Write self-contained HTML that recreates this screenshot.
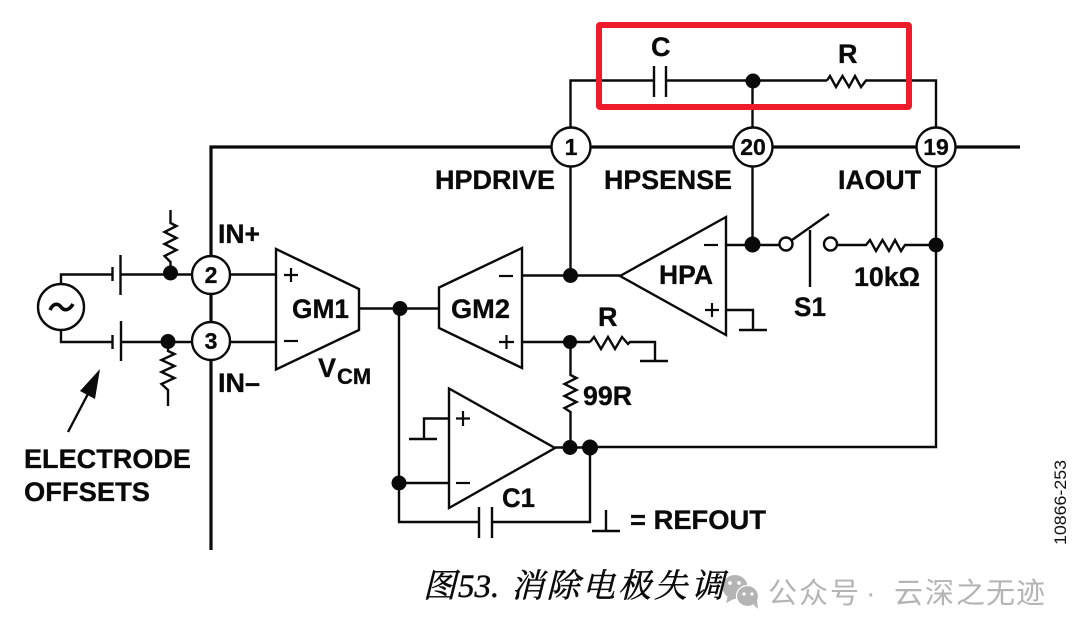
<!DOCTYPE html>
<html>
<head>
<meta charset="utf-8">
<style>
html,body{margin:0;padding:0;background:#fff;width:1080px;height:636px;overflow:hidden}
svg{display:block}
.b{font-family:"Liberation Sans",sans-serif;font-weight:bold;font-size:27px;fill:#0a0a0a;stroke:#0a0a0a;stroke-width:.3px}
.n{font-family:"Liberation Sans",sans-serif;font-weight:bold;font-size:23px;fill:#0a0a0a;text-anchor:middle;stroke:#0a0a0a;stroke-width:.3px}
</style>
</head>
<body>
<svg width="1080" height="636" viewBox="0 0 1080 636" xmlns="http://www.w3.org/2000/svg">
<rect width="1080" height="636" fill="#fff"/>
<g fill="none" stroke="#0a0a0a" stroke-width="2.4" stroke-linejoin="miter">
  <!-- main bus -->
  <polyline points="211,550 211,147 1020,147" stroke-width="3.2"/>
  <!-- top loop -->
  <polyline points="570.5,147 570.5,80.5 654,80.5"/>
  <polyline points="666,80.5 827,80.5"/>
  <polyline points="827,80.5 830,76 836,87 842.500,76 849,87 855,76 861,87 866,80.500 936,80.500 936,147"/>
  <line x1="654" y1="66" x2="654" y2="97"/>
  <line x1="666" y1="66" x2="666" y2="97"/>
  <line x1="752.500" y1="80" x2="752.500" y2="147"/>
  <!-- vertical from pins -->
  <line x1="570.500" y1="147" x2="570.500" y2="276"/>
  <line x1="752.500" y1="147" x2="752.500" y2="245"/>
  <polyline points="936,147 936,447 590,447 590,522 492,522"/>
  <!-- source -->
  <circle cx="61" cy="307" r="23"/>
  <polyline points="61,284 61,274.500 112,274.500"/>
  <polyline points="61,330 61,342 112,342"/>
  <line x1="112.500" y1="267" x2="112.500" y2="281"/>
  <line x1="120.500" y1="255" x2="120.500" y2="295"/>
  <line x1="112.500" y1="335" x2="112.500" y2="349"/>
  <line x1="121" y1="321" x2="121" y2="361"/>
  <line x1="121" y1="274.500" x2="192" y2="274.500"/>
  <line x1="121" y1="342" x2="192" y2="342"/>
  <!-- resistors at inputs -->
  <polyline points="170.500,210 170.500,223 176.500,226 164.500,232 176.500,238 164.500,244 176.500,250 164.500,256 170.500,262 170.500,274"/>
  <polyline points="168,342 168,351 174.500,354 161.500,360 174.500,366 161.500,372 174.500,378 161.500,384 168,390 168,406"/>
  <!-- GM1 -->
  <polygon points="276,249 359,289 359,330 276,369.500"/>
  <line x1="230" y1="274.500" x2="276" y2="274.500"/>
  <line x1="230" y1="342" x2="276" y2="342"/>
  <line x1="359" y1="308.500" x2="439" y2="308.500"/>
  <!-- GM2 -->
  <polygon points="439,287.500 522,248 522,368 439,328"/>
  <line x1="522" y1="275.500" x2="620" y2="275.500"/>
  <line x1="522" y1="342" x2="590" y2="342"/>
  <!-- R to ground -->
  <polyline points="590,342 594,337 601,349 608,337 615,349 622,337 628,344 630,342 655,342 655,361"/>
  <line x1="640" y1="361" x2="668" y2="361"/>
  <!-- 99R -->
  <polyline points="570.500,342 570.500,375 576.500,378 564.500,384 576.500,390 564.500,396 576.500,402 564.500,408 570.500,412 570.500,447"/>
  <!-- lower amp -->
  <polygon points="449,388.500 555,448 449,508"/>
  <polyline points="449,418.500 424,418.500 424,439"/>
  <line x1="409" y1="439" x2="437" y2="439"/>
  <line x1="399" y1="483" x2="449" y2="483"/>
  <polyline points="399,308.500 399,522 479,522"/>
  <line x1="479" y1="507" x2="479" y2="538"/>
  <line x1="492" y1="507" x2="492" y2="538"/>
  <line x1="555" y1="447.500" x2="590" y2="447.500"/>
  <!-- legend ground -->
  <line x1="606" y1="510" x2="606" y2="531"/>
  <line x1="592" y1="531" x2="620" y2="531"/>
  <!-- HPA -->
  <polygon points="620,276 726,217 726,335"/>
  <line x1="726" y1="245" x2="779" y2="245"/>
  <polyline points="726,310 753,310 753,330"/>
  <line x1="739" y1="330" x2="767" y2="330"/>
  <!-- switch -->
  <circle cx="786" cy="244" r="6.500" fill="#fff"/>
  <line x1="792" y1="240" x2="829" y2="214"/>
  <line x1="810" y1="230" x2="810" y2="287"/>
  <circle cx="830.500" cy="244" r="6.500" fill="#fff"/>
  <polyline points="837,245 866,245 870,240 876,251 882.500,240 889,251 895,240 901,251 905,245 936,245"/>
  <!-- arrow -->
  <line x1="68" y1="432" x2="90" y2="390"/>
</g>
<polygon points="100,369 80,391 95,399" fill="#0a0a0a"/>
<!-- plus/minus marks -->
<g fill="none" stroke="#0a0a0a" stroke-width="2.200">
  <path d="M284,275H298M291,268V282"/>
  <path d="M284,341H298"/>
  <path d="M499,276H513"/>
  <path d="M499,342H514M506.500,335V349"/>
  <path d="M456,418.500H470M463,411V426"/>
  <path d="M456,483H470"/>
  <path d="M704,245H718"/>
  <path d="M705,310H719M712,303V317"/>
</g>
<path d="M50,310 C53,303 58,303 61,307 C64,311 69,311 73,304" fill="none" stroke="#0a0a0a" stroke-width="3.600"/>
<!-- dots -->
<g fill="#0a0a0a">
  <circle cx="170.500" cy="273" r="7.500"/>
  <circle cx="168" cy="341.500" r="7.500"/>
  <circle cx="400" cy="308.500" r="7.500"/>
  <circle cx="399" cy="483" r="7.500"/>
  <circle cx="570.500" cy="275.500" r="7.500"/>
  <circle cx="570" cy="342" r="7"/>
  <circle cx="570" cy="447.500" r="7.500"/>
  <circle cx="590" cy="447.500" r="8"/>
  <circle cx="753" cy="81" r="7.500"/>
  <circle cx="752.500" cy="244.500" r="8"/>
  <circle cx="936" cy="245" r="7.500"/>
</g>
<!-- pin circles -->
<g fill="#fff" stroke="#0a0a0a" stroke-width="2.400">
  <circle cx="211" cy="275" r="19"/>
  <circle cx="211" cy="341" r="19"/>
  <circle cx="571" cy="147" r="19.500"/>
  <circle cx="753" cy="147" r="19.500"/>
  <circle cx="936" cy="147" r="19.500"/>
</g>
<text class="n" x="211" y="283">2</text>
<text class="n" x="211" y="349">3</text>
<text class="n" x="571" y="155">1</text>
<text class="n" x="753" y="155">20</text>
<text class="n" x="936" y="155">19</text>
<!-- labels -->
<text class="b" x="435" y="189" textLength="120" lengthAdjust="spacingAndGlyphs">HPDRIVE</text>
<text class="b" x="604" y="189" textLength="128" lengthAdjust="spacingAndGlyphs">HPSENSE</text>
<text class="b" x="838" y="189" textLength="83" lengthAdjust="spacingAndGlyphs">IAOUT</text>
<text class="b" x="218" y="243" textLength="42" lengthAdjust="spacingAndGlyphs">IN+</text>
<text class="b" x="218" y="392" textLength="42" lengthAdjust="spacingAndGlyphs">IN–</text>
<text class="b" x="292" y="318" textLength="57" lengthAdjust="spacingAndGlyphs">GM1</text>
<text class="b" x="451" y="318" textLength="59" lengthAdjust="spacingAndGlyphs">GM2</text>
<text class="b" x="659" y="284" textLength="54" lengthAdjust="spacingAndGlyphs">HPA</text>
<text class="b" x="318" y="377">V</text>
<text class="b" x="337" y="384" style="font-size:22px">CM</text>
<text class="b" x="598" y="326">R</text>
<text class="b" x="583" y="405" textLength="49" lengthAdjust="spacingAndGlyphs">99R</text>
<text class="b" x="502" y="507" textLength="33" lengthAdjust="spacingAndGlyphs">C1</text>
<text class="b" x="651" y="56">C</text>
<text class="b" x="838" y="63">R</text>
<text class="b" x="854" y="286" textLength="66" lengthAdjust="spacingAndGlyphs">10kΩ</text>
<text class="b" x="794" y="316" textLength="32" lengthAdjust="spacingAndGlyphs">S1</text>
<text class="b" x="630" y="529" textLength="136" lengthAdjust="spacingAndGlyphs">= REFOUT</text>
<text class="b" x="24" y="468" textLength="167" lengthAdjust="spacingAndGlyphs">ELECTRODE</text>
<text class="b" x="24" y="501" textLength="126" lengthAdjust="spacingAndGlyphs">OFFSETS</text>
<text x="1066" y="545" transform="rotate(-90 1066 545)" font-family="'Liberation Sans',sans-serif" font-size="17" fill="#111" textLength="85" lengthAdjust="spacingAndGlyphs">10866-253</text>
<!-- red box -->
<rect x="599" y="25" width="310" height="82" fill="none" stroke="#ee1c2a" stroke-width="6" rx="1"/>
<!-- watermark icon -->
<g fill="#b4b4b4">
  <ellipse cx="735" cy="587" rx="12.500" ry="12"/>
  <polygon points="728,595 726,603 736,598"/>
  <ellipse cx="747.500" cy="596" rx="11" ry="10.500" stroke="#fff" stroke-width="1.200"/>
  <polygon points="752,603 758,609 757,600"/>
</g>
<g fill="#fff">
  <circle cx="730" cy="583" r="1.900"/><circle cx="739" cy="583" r="1.900"/>
  <circle cx="744" cy="594" r="1.600"/><circle cx="752" cy="594" r="1.600"/>
</g>
<!-- caption -->
<text y="597" font-family="'Liberation Serif','Noto Serif CJK SC',serif" font-style="italic" font-size="33" fill="#0a0a0a" stroke="#0a0a0a" stroke-width=".5"><tspan x="423">图</tspan><tspan x="458">5</tspan><tspan x="474.500">3</tspan><tspan x="491">.</tspan><tspan x="511">消</tspan><tspan x="546.500">除</tspan><tspan x="582">电</tspan><tspan x="618">极</tspan><tspan x="654">失</tspan><tspan x="691">调</tspan></text>
<!-- watermark text -->
<text y="603" font-family="'Liberation Sans','Noto Sans CJK SC',sans-serif" font-size="29" fill="#b4b4b4"><tspan x="768">公</tspan><tspan x="799">众</tspan><tspan x="830">号</tspan><tspan x="866">·</tspan><tspan x="894">云</tspan><tspan x="925">深</tspan><tspan x="956">之</tspan><tspan x="986">无</tspan><tspan x="1016">迹</tspan></text>
</svg>
</body>
</html>
